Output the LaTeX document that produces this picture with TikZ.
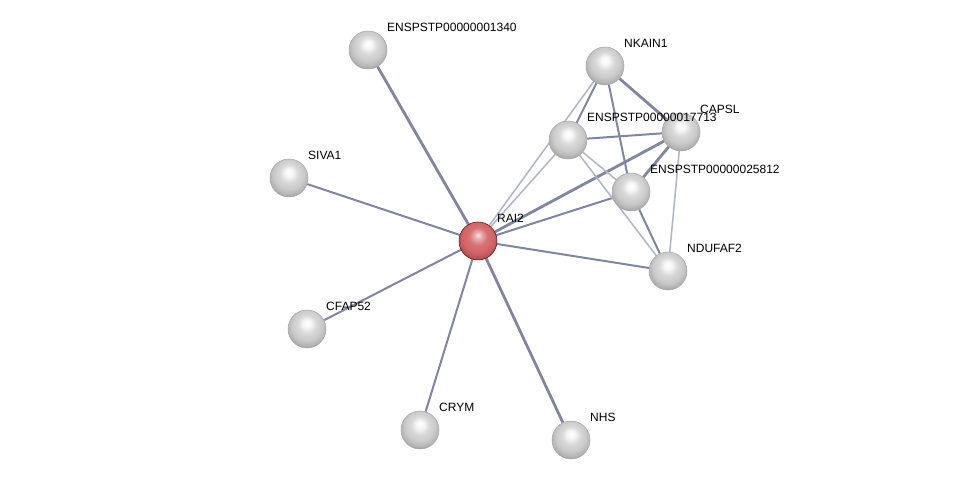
\documentclass[tikz,border=0pt]{standalone}
\usepackage{fontspec}
\setmainfont{Liberation Sans}
\usepackage{tikz}
\usetikzlibrary{backgrounds, shadings}

\definecolor{edgedark}{RGB}{128,134,160}
\definecolor{edgelight}{RGB}{176,180,200}
\definecolor{protred}{RGB}{212,100,102}

\pgfdeclareradialshading{greysphere}{\pgfpoint{0bp}{8bp}}{%
  color(0bp)=(white); color(5bp)=(white!94!gray); color(12bp)=(white!70!gray);
  color(20bp)=(white!58!gray); color(26bp)=(white!40!gray); color(32bp)=(gray);
  color(50bp)=(gray)}
\pgfdeclareradialshading{redsphere}{\pgfpoint{0bp}{8bp}}{%
  color(0bp)=(white!80!protred); color(5bp)=(white!45!protred); color(12bp)=(white!8!protred);
  color(20bp)=(protred); color(26bp)=(protred!85!black); color(32bp)=(protred!65!black);
  color(50bp)=(protred!65!black)}

\begin{document}
\begin{tikzpicture}[x=1pt, y=-1pt,
  prot/.style={circle, minimum size=38pt, inner sep=0pt, shading=greysphere,
    draw=gray!70, line width=0.5pt},
  query/.style={prot, shading=redsphere, draw=red!40!black},
  label distance=10pt,
  every label/.style={anchor=west, inner sep=1pt, font=\fontsize{12}{14}\selectfont},
  link/.style={draw=edgedark, line width=2pt},
  strong/.style={draw=edgedark, line width=2.8pt},
  weak/.style={draw=edgelight, line width=1.5pt}]
  \useasboundingbox (0,0) rectangle (975,486);

  % proteins
  \node[prot, label={52:ENSPSTP00000001340}] (p1340) at (368,50) {};
  \node[prot, label={52:SIVA1}] (siva) at (289,178) {};
  \node[prot, label={52:CFAP52}] (cfap) at (307,329) {};
  \node[prot, label={52:CRYM}] (crym) at (420,430) {};
  \node[prot, label={52:NHS}] (nhs) at (571,440) {};
  \node[prot, label={52:NKAIN1}] (nkain) at (605,66) {};
  \node[prot, label={52:CAPSL}] (capsl) at (681,132) {};
  \node[prot, label={52:ENSPSTP00000017713}] (p17713) at (568,140) {};
  \node[prot, label={52:ENSPSTP00000025812}] (p25812) at (631,192) {};
  \node[prot, label={52:NDUFAF2}] (nduf) at (668,271) {};
  \node[query, label={52:RAI2}] (rai) at (478,241) {};

  \begin{scope}[on background layer]
    \fill[white] (0,0) rectangle (975,486);
    % edges from RAI2
    \draw[strong] (rai) -- (p1340);
    \draw[link] (rai) -- (siva);
    \draw[link] (rai) -- (cfap);
    \draw[link] (rai) -- (crym);
    \draw[strong] (rai) -- (nhs);
    \draw[link] (rai) -- (nduf);
    \draw[link] (rai) -- (p25812);
    \draw[strong] (rai) -- (capsl);
    \draw[weak] (rai) -- (p17713);
    \draw[weak] (rai) -- (nkain);
    % cluster
    \draw[link] (nkain) -- (p17713);
    \draw[strong] (nkain) -- (capsl);
    \draw[link] (nkain) -- (p25812);
    \draw[link] (p17713) -- (capsl);
    \draw[weak] (p17713) -- (p25812);
    \draw[weak] (p17713) -- (nduf);
    \draw[strong] (capsl) -- (p25812);
    \draw[weak] (capsl) -- (nduf);
    \draw[link] (p25812) -- (nduf);
  \end{scope}
\end{tikzpicture}
\end{document}
